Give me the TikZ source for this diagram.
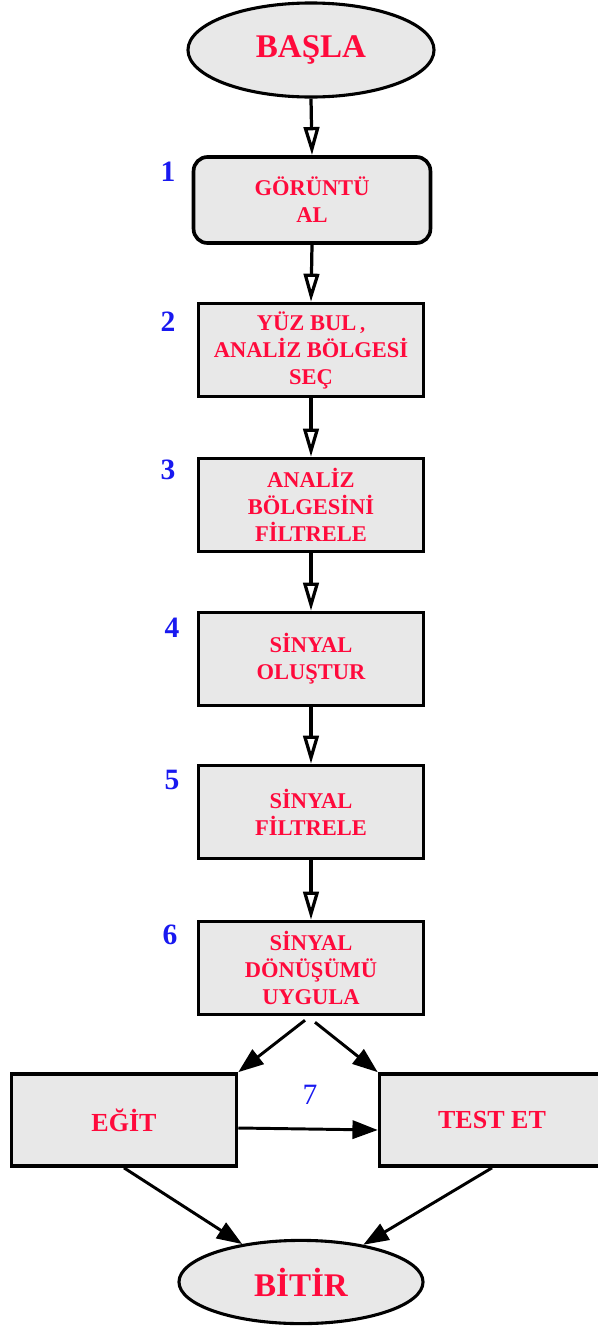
\documentclass[tikz,border=0pt]{standalone}
\usepackage{fontspec}
\setmainfont{Liberation Serif}
\usetikzlibrary{arrows.meta, shapes.geometric}
\definecolor{txtred}{RGB}{255,10,60}
\definecolor{numblue}{RGB}{25,25,240}
\definecolor{boxgray}{RGB}{232,232,232}

\begin{document}
\begin{tikzpicture}[x=0.025cm, y=-0.025cm,
    block/.style={draw, line width=2.6pt, fill=boxgray, text=txtred, font=\fontsize{16}{19.2}\selectfont\bfseries, align=center, minimum width=5.62cm, minimum height=2.32cm, inner sep=0pt},
    term/.style={ellipse, draw, line width=2.2pt, fill=boxgray, text=txtred, font=\fontsize{23.5}{28}\selectfont\bfseries, inner sep=0pt},
    num/.style={text=numblue, font=\fontsize{21}{24}\selectfont\bfseries},
    flow/.style={-{Triangle[open, length=20pt, width=11pt]}, line width=2.3pt},
    link/.style={-{Triangle[length=18pt, width=13pt]}, line width=2.1pt}]
    \useasboundingbox (0,0) rectangle (598,1329);
    \node[term, minimum width=6.15cm, minimum height=2.35cm] (basla) at (311,50) {BAŞLA};
    \node[block, rounded corners=0.35cm, minimum width=5.92cm, minimum height=2.15cm] (s1) at (312,200) {GÖRÜNTÜ\\AL};
    \node[block] (s2) at (311,350) {YÜZ BUL\,{\Large ,}\\ANALİZ BÖLGESİ\\SEÇ};
    \node[block] (s3) at (311,505) {ANALİZ\\BÖLGESİNİ\\FİLTRELE};
    \node[block] (s4) at (311,659) {SİNYAL\\OLUŞTUR};
    \node[block] (s5) at (311,812) {SİNYAL\\FİLTRELE};
    \node[block] (s6) at (311,968) {SİNYAL\\DÖNÜŞÜMÜ\\UYGULA};
    \node[block, minimum height=2.3cm, font=\fontsize{18.5}{22}\selectfont\bfseries] (egit) at (124,1120) {EĞİT};
    \node[block, minimum height=2.3cm, font=\fontsize{18.5}{22}\selectfont\bfseries] (test) at (492,1120) {TEST ET};
    \node[term, minimum width=6.1cm, minimum height=2.08cm] (bitir) at (301,1282) {BİTİR};

    \node[num] (n1) at (168,172) {1};
    \node[num] (n2) at (168,322) {2};
    \node[num] (n3) at (168,470) {3};
    \node[num] (n4) at (172,628) {4};
    \node[num] (n5) at (172,780) {5};
    \node[num] (n6) at (170,935) {6};
    \node[num, font=\fontsize{21}{24}\selectfont] (n7) at (310,1095) {7};

    \draw[flow] (basla.south) -- (s1.north);
    \draw[flow] (s1.south) -- (s2.north);
    \draw[flow] (s2.south) -- (s3.north);
    \draw[flow] (s3.south) -- (s4.north);
    \draw[flow] (s4.south) -- (s5.north);
    \draw[flow] (s5.south) -- (s6.north);
    \draw[link] ([shift={(-6,4)}]s6.south) -- (egit.north east);
    \draw[link] ([shift={(4,6)}]s6.south) -- (test.north west);
    \draw[link] ([shift={(0,8)}]egit.east) -- ([shift={(0,10)}]test.west);
    \draw[link] (egit.south) -- (bitir);
    \draw[link] (test.south) -- (bitir);
\end{tikzpicture}
\end{document}
